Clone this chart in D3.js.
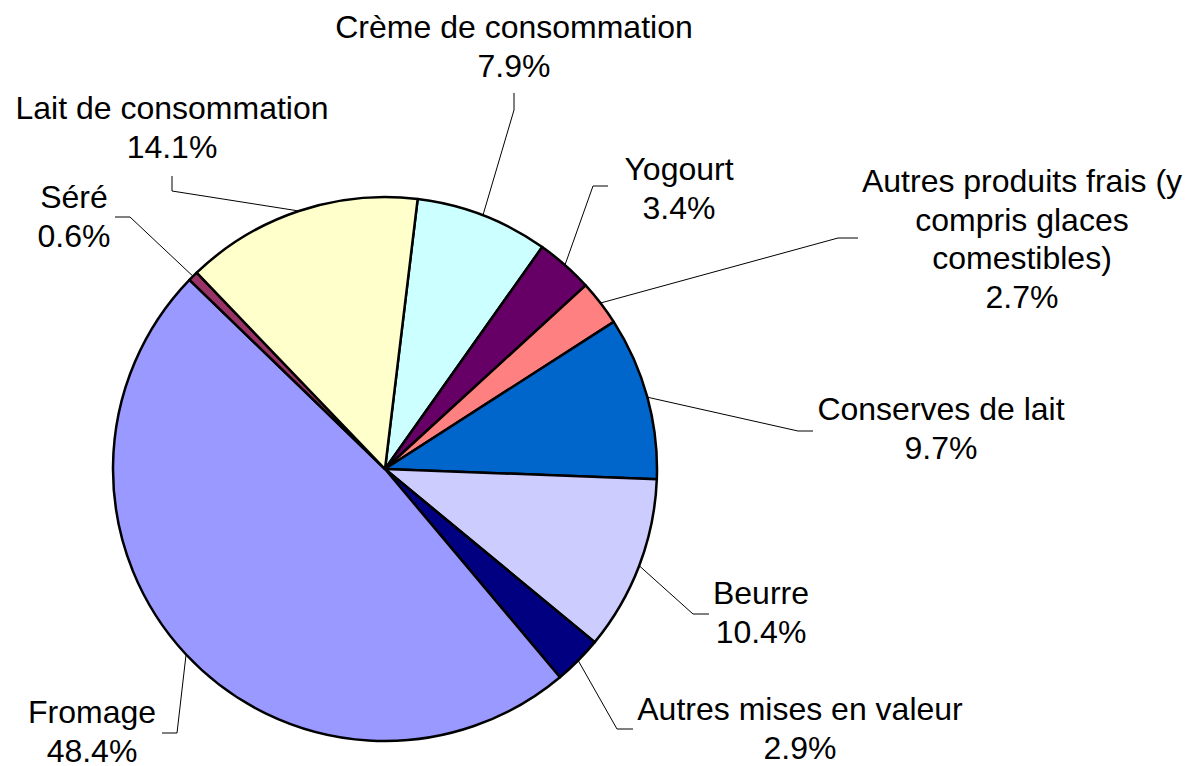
<!DOCTYPE html>
<html>
<head>
<meta charset="utf-8">
<script src="https://cdn.jsdelivr.net/npm/d3@7"></script>
<style>
    html, body { margin: 0; padding: 0; background: #fff; }
    svg text { font-family: "Liberation Sans", Arial, sans-serif; font-size: 32px; fill: #000; }
</style>
</head>
<body>
<svg id="pie-plot" width="1190" height="766"></svg>
<script>
// slices clockwise, starting just right of 12 o'clock
const categories = [
    'Crème de consommation',
    'Yogourt',
    'Autres produits frais (y\ncompris glaces\ncomestibles)',
    'Conserves de lait',
    'Beurre',
    'Autres mises en valeur',
    'Fromage',
    'Séré',
    'Lait de consommation'
];
const shares = [7.9, 3.4, 2.7, 9.7, 10.4, 2.9, 48.4, 0.6, 14.1];
const colours = ['#CCFFFF', '#660066', '#FF8080', '#0066CC', '#CCCCFF', '#000080', '#9999FF', '#993366', '#FFFFCC'];

// where each label sits (centre x, first baseline) and the leader line elbow
const labelLayout = [
    { x: 514, y: 38, elbow: [[514, 110], [514, 93]] },
    { x: 679, y: 180, elbow: [[593, 186], [608, 186]] },
    { x: 1022, y: 192, elbow: [[838, 238], [858, 238]] },
    { x: 941, y: 420, elbow: [[798, 431], [813, 431]] },
    { x: 761, y: 604, elbow: [[693, 614], [709, 614]] },
    { x: 800, y: 720, elbow: [[617, 729], [633, 729]] },
    { x: 92, y: 723, elbow: [[177, 733], [162, 733]] },
    { x: 74, y: 208, elbow: [[130, 217], [115, 217]] },
    { x: 172, y: 119, elbow: [[172, 191], [172, 176]] }
];

document.addEventListener('DOMContentLoaded', () => {
    const cx = 385;
    const cy = 469;
    const radius = 272;
    const lineHeight = 38.5;
    const startAngle = 6.9 * Math.PI / 180;

    let pie = d3.pie()
        .sort(null)
        .value(d => d)
        .startAngle(startAngle)
        .endAngle(startAngle + 2 * Math.PI);

    let arc = d3.arc().innerRadius(0).outerRadius(radius);
    let slices = pie(shares);

    let svg = d3.select('#pie-plot');
    let g = svg.append('g').attr('transform', `translate(${cx},${cy})`);

    g.selectAll('path')
        .data(slices)
        .enter()
        .append('path')
        .attr('fill', (d, i) => colours[i])
        .attr('stroke', 'black')
        .attr('stroke-width', 2.5)
        .attr('stroke-linejoin', 'round')
        .attr('d', arc);

    // leader lines from slice edge (mid angle) to label
    let edgePoint = d => {
        let a = (d.startAngle + d.endAngle) / 2;
        return [cx + radius * Math.sin(a), cy - radius * Math.cos(a)];
    };

    svg.append('g')
        .selectAll('path')
        .data(slices)
        .enter()
        .append('path')
        .attr('fill', 'none')
        .attr('stroke', '#000')
        .attr('stroke-width', 1)
        .attr('d', (d, i) => d3.line()([edgePoint(d)].concat(labelLayout[i].elbow)));

    let labels = svg.append('g')
        .selectAll('text')
        .data(slices)
        .enter()
        .append('text')
        .attr('text-anchor', 'middle');

    labels.each(function (d, i) {
        let lines = categories[i].split('\n').concat([`${d.data.toFixed(1)}%`]);
        let pos = labelLayout[i];
        d3.select(this).selectAll('tspan')
            .data(lines)
            .enter()
            .append('tspan')
            .attr('x', pos.x)
            .attr('y', (t, j) => pos.y + j * lineHeight)
            .text(t => t);
    });
});
</script>
</body>
</html>
